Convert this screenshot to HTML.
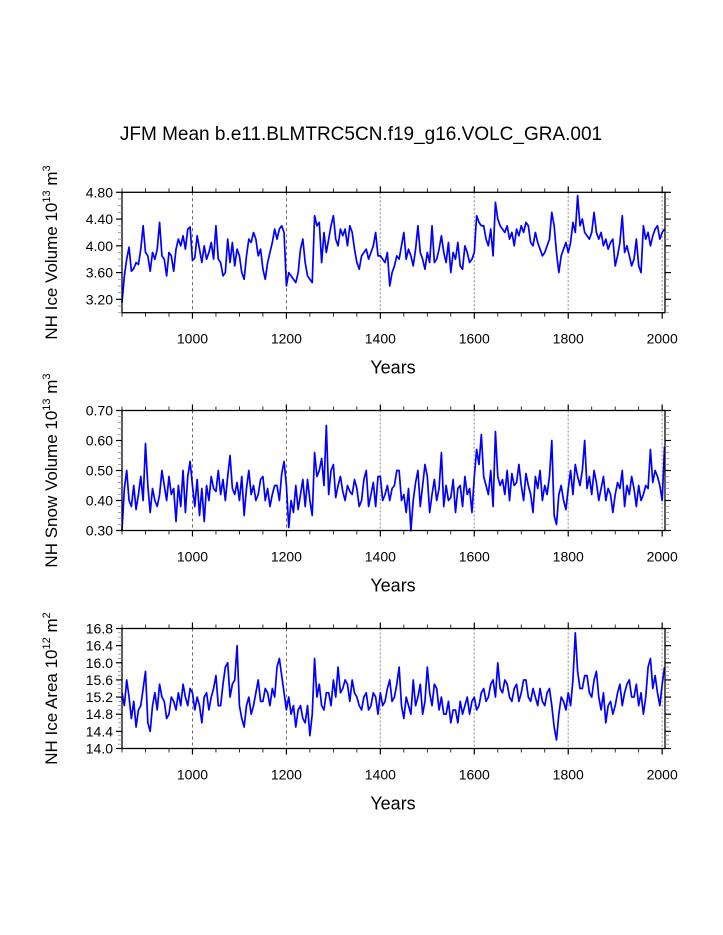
<!DOCTYPE html>
<html><head><meta charset="utf-8">
<style>
html,body{margin:0;padding:0;background:#fff;}
svg{display:block;font-family:"Liberation Sans",Arial,sans-serif;}
</style></head>
<body>
<svg id="chart" width="723" height="935" viewBox="0 0 723 935" xmlns="http://www.w3.org/2000/svg">
<text x="361" y="140" font-size="19" text-anchor="middle">JFM Mean b.e11.BLMTRC5CN.f19_g16.VOLC_GRA.001</text>
<g id="plots"></g>
</svg>
<script>
const startYear = 850;
const stepYears = 5;
const iceVolume = [3.15,3.55,3.8,3.98,3.62,3.66,3.75,3.72,3.95,4.3,3.9,3.85,3.62,3.9,3.8,3.95,4.35,3.85,3.8,3.55,3.9,3.85,3.62,3.95,4.1,4.0,4.15,3.95,4.25,4.28,
3.78,3.82,4.15,3.95,3.75,4.0,3.8,3.9,4.05,3.8,4.3,3.8,3.75,3.55,3.6,4.1,3.75,4.05,3.7,3.95,3.85,3.6,3.5,3.85,4.1,4.05,4.2,4.1,3.85,3.95,3.65,3.5,3.75,3.9,4.05,4.25,4.1,4.25,4.3,4.2,
3.4,3.6,3.55,3.5,3.45,3.6,3.95,4.1,3.75,3.55,3.5,3.45,4.45,4.3,4.35,3.75,4.2,3.9,4.1,4.3,4.45,4.1,4.0,4.25,4.15,4.25,4.0,4.3,4.2,3.95,3.75,3.65,3.85,3.9,3.95,3.8,3.9,4.0,4.2,3.85,
3.85,3.8,3.75,3.9,3.4,3.6,3.7,3.85,3.8,4.0,4.2,3.8,3.95,3.85,3.7,3.95,4.3,3.9,3.8,3.65,3.9,3.75,4.3,3.75,3.8,3.95,4.15,3.9,3.75,4.05,3.6,3.9,3.8,4.05,3.7,3.65,4.0,3.9,3.75,3.8,
3.9,4.45,4.35,4.3,4.3,4.1,4.0,4.25,3.85,4.65,4.4,4.3,4.25,4.2,4.3,4.1,4.2,4.0,4.25,4.15,4.3,4.2,4.35,4.3,4.05,4.0,4.2,4.05,3.95,3.85,3.9,4.0,4.1,4.5,4.3,3.9,3.6,3.85,3.95,4.05,
3.9,4.05,4.35,4.2,4.75,4.3,4.4,4.2,4.15,4.1,4.2,4.5,4.2,4.1,4.2,4.0,4.1,3.95,4.05,4.1,3.7,3.85,4.05,4.45,3.9,4.0,3.85,3.7,3.8,4.1,3.7,3.6,4.3,4.1,4.2,4.0,4.15,4.25,4.3,4.1,4.2,4.25];
const snowVolume = [.30,.44,.50,.40,.38,.45,.37,.42,.48,.40,.59,.45,.36,.44,.40,.38,.42,.50,.45,.40,.48,.42,.44,.33,.45,.38,.50,.36,.48,.53,
.45,.38,.47,.35,.44,.33,.45,.40,.48,.44,.43,.50,.42,.47,.40,.48,.55,.44,.42,.46,.40,.48,.35,.44,.50,.42,.45,.40,.42,.47,.48,.40,.44,.38,.42,.45,.45,.40,.49,.53,
.45,.31,.40,.36,.45,.37,.42,.47,.38,.47,.40,.35,.56,.48,.50,.54,.45,.65,.42,.50,.52,.41,.45,.48,.43,.40,.45,.43,.42,.47,.44,.38,.40,.47,.50,.38,.42,.46,.38,.48,
.48,.40,.42,.45,.40,.44,.45,.50,.50,.40,.42,.36,.44,.30,.40,.46,.50,.38,.45,.52,.48,.36,.42,.47,.40,.44,.56,.38,.45,.40,.41,.47,.36,.44,.45,.38,.48,.42,.44,.36,
.48,.57,.52,.62,.48,.45,.42,.50,.38,.63,.48,.45,.47,.42,.50,.40,.49,.45,.46,.52,.45,.40,.49,.45,.42,.36,.48,.44,.50,.40,.45,.42,.48,.60,.35,.32,.42,.45,.40,.37,
.44,.50,.42,.52,.48,.45,.50,.60,.44,.48,.42,.50,.46,.40,.44,.48,.40,.44,.42,.36,.42,.46,.44,.50,.38,.45,.42,.48,.44,.38,.45,.40,.42,.45,.44,.57,.46,.50,.48,.45,.40,.58];
const iceArea = [15.3,15.0,15.6,15.2,14.7,15.1,14.5,14.9,15.0,15.4,15.8,14.6,14.4,15.0,15.3,14.9,15.5,15.2,15.1,14.7,14.8,15.2,15.1,14.9,15.3,15.0,15.5,15.2,15.0,15.4,
15.3,14.9,15.2,15.0,14.6,15.2,15.3,14.9,15.2,15.4,15.7,15.0,15.0,15.5,15.9,16.0,15.2,15.5,15.6,16.4,15.0,14.7,14.5,15.0,15.2,14.8,15.0,15.3,15.6,15.1,15.1,15.4,15.3,15.0,15.4,15.2,15.9,16.1,15.7,15.3,
14.9,15.2,14.8,15.0,14.5,14.9,15.0,14.7,14.6,15.0,14.3,14.8,16.1,15.2,15.5,15.0,14.9,15.3,15.3,15.0,15.6,15.2,15.9,15.3,15.4,15.6,15.5,15.1,15.6,15.3,15.2,15.0,14.9,15.2,15.3,14.9,15.0,15.3,15.2,14.8,
15.3,15.0,15.1,15.4,15.6,15.1,15.2,15.5,15.9,15.0,14.7,15.2,15.0,14.8,15.6,15.0,15.2,15.5,14.8,15.1,15.9,15.3,15.0,15.5,15.4,14.9,15.2,14.8,14.8,15.1,14.6,14.9,14.9,14.6,15.1,14.8,15.0,15.2,14.8,15.1,
15.2,14.9,15.0,15.3,15.4,15.1,15.2,15.5,15.6,15.2,16.0,15.4,15.3,15.6,15.5,15.2,15.1,15.4,15.5,15.1,15.3,15.6,15.6,15.2,15.1,15.4,15.2,15.0,15.4,15.1,15.0,15.3,15.4,15.0,14.5,14.2,14.8,15.2,15.1,14.9,
15.3,15.0,15.6,16.7,15.8,15.4,15.4,15.7,15.7,15.3,15.2,15.6,15.8,15.2,14.9,15.3,14.6,15.0,15.1,14.8,15.0,15.3,15.5,15.0,15.3,15.5,15.6,15.2,15.2,15.5,15.0,15.3,14.8,15.2,15.9,16.1,15.4,15.7,15.3,15.0,15.5,15.9];

const xMin = 850, xMax = 2006;
const xMajor = [1000,1200,1400,1600,1800,2000];
const ice1Ticks = ["3.20","3.60","4.00","4.40","4.80"];
const snowTicks = ["0.30","0.40","0.50","0.60","0.70"];
const areaTicks = ["14.0","14.4","14.8","15.2","15.6","16.0","16.4","16.8"];

const L = 122, R = 665;
const NS = "http://www.w3.org/2000/svg";
const root = document.getElementById('plots');
function mk(tag, attrs, parent){const e=document.createElementNS(NS,tag);for(const k in attrs)e.setAttribute(k,attrs[k]);(parent||root).appendChild(e);return e;}
const xs = v => L + (v - xMin) / (xMax - xMin) * (R - L);

const panels = [
  {name:'ice-volume', data:iceVolume, top:192.3, bot:312.7, ymin:3.0, ymax:4.8, ticks:ice1Ticks, minor:0.1, title:'NH Ice Volume 10', exp:'13', unit:' m', uexp:'3'},
  {name:'snow-volume', data:snowVolume, top:410.5, bot:530.5, ymin:0.3, ymax:0.7, ticks:snowTicks, minor:0.02, title:'NH Snow Volume 10', exp:'13', unit:' m', uexp:'3'},
  {name:'ice-area', data:iceArea, top:628.5, bot:748.5, ymin:14.0, ymax:16.8, ticks:areaTicks, minor:0.1, title:'NH Ice Area 10', exp:'12', unit:' m', uexp:'2'}
];

panels.forEach(p => {
  const g = mk('g', {});
  
  
  const ys = v => p.bot - (v - p.ymin) / (p.ymax - p.ymin) * (p.bot - p.top);
  xMajor.forEach(yr => {
    const gl = mk('line', {x1:xs(yr), x2:xs(yr), y1:p.top, y2:p.bot, stroke: yr<1300?'#444':'#aaa', 'stroke-width': yr<1300?0.8:1.4, 'stroke-dasharray': yr<1300?'3,3':'2,2'}, g);
    
    
  });
  let d = '';
  p.data.forEach((v, i) => { const yr = startYear + i * stepYears; d += (i ? 'L' : 'M') + xs(yr).toFixed(2) + ',' + ys(v).toFixed(2); });
  const line = mk('path', {d:d, fill:'none', stroke:'#0000ff', 'stroke-width':1.7, 'stroke-linejoin':'round'}, g);
  
  
  const fr = mk('rect', {x:L, y:p.top, width:R-L, height:p.bot-p.top, fill:'none', stroke:'#000', 'stroke-width':1.3}, g);
  
  
  for (let yr = 850; yr <= 2000; yr += 50) {
    const maj = yr % 200 === 0;
    const len = maj ? 6 : 4;
    mk('line', {x1:xs(yr), x2:xs(yr), y1:p.top, y2:p.top-len, stroke:'#000', 'stroke-width':maj?1.2:0.8}, g);
    mk('line', {x1:xs(yr), x2:xs(yr), y1:p.bot, y2:p.bot+len, stroke:'#000', 'stroke-width':maj?1.2:0.8}, g);
  }
  xMajor.forEach(yr => {
    const t = mk('text', {x:xs(yr), y:p.bot+31, 'font-size':14, 'text-anchor':'middle'}, g);
    t.textContent = yr;
    
    
  });
  const xt = mk('text', {x:393, y:p.bot+61, 'font-size':18, 'text-anchor':'middle'}, g);
  xt.textContent = 'Years';
  
  
  const nMin = Math.round((p.ymax - p.ymin) / p.minor);
  for (let k = 0; k <= nMin; k++) {
    const v = p.ymin + k * p.minor, y = ys(v);
    mk('line', {x1:L, x2:L-4, y1:y, y2:y, stroke:'#888', 'stroke-width':0.8}, g);
    mk('line', {x1:R, x2:R+4, y1:y, y2:y, stroke:'#888', 'stroke-width':0.8}, g);
  }
  p.ticks.forEach(lab => {
    const y = ys(parseFloat(lab));
    mk('line', {x1:L, x2:L-6, y1:y, y2:y, stroke:'#000', 'stroke-width':1.2}, g);
    mk('line', {x1:R, x2:R+6, y1:y, y2:y, stroke:'#000', 'stroke-width':1.2}, g);
    const t = mk('text', {x:L-9, y:y+5, 'font-size':14, 'text-anchor':'end'}, g);
    t.textContent = lab;
    
    
  });
  const cy = (p.top + p.bot) / 2;
  const yt = mk('text', {x:0, y:0, 'font-size':17, 'text-anchor':'middle', transform:'translate(57,' + cy + ') rotate(-90)'}, g);
  
  
  const s1 = mk('tspan', {}, yt); s1.textContent = p.title;
  const s2 = mk('tspan', {dy:-7, 'font-size':11}, yt); s2.textContent = p.exp;
  const s3 = mk('tspan', {dy:7}, yt); s3.textContent = p.unit;
  const s4 = mk('tspan', {dy:-7, 'font-size':11}, yt); s4.textContent = p.uexp;
});
</script>
</body></html>
